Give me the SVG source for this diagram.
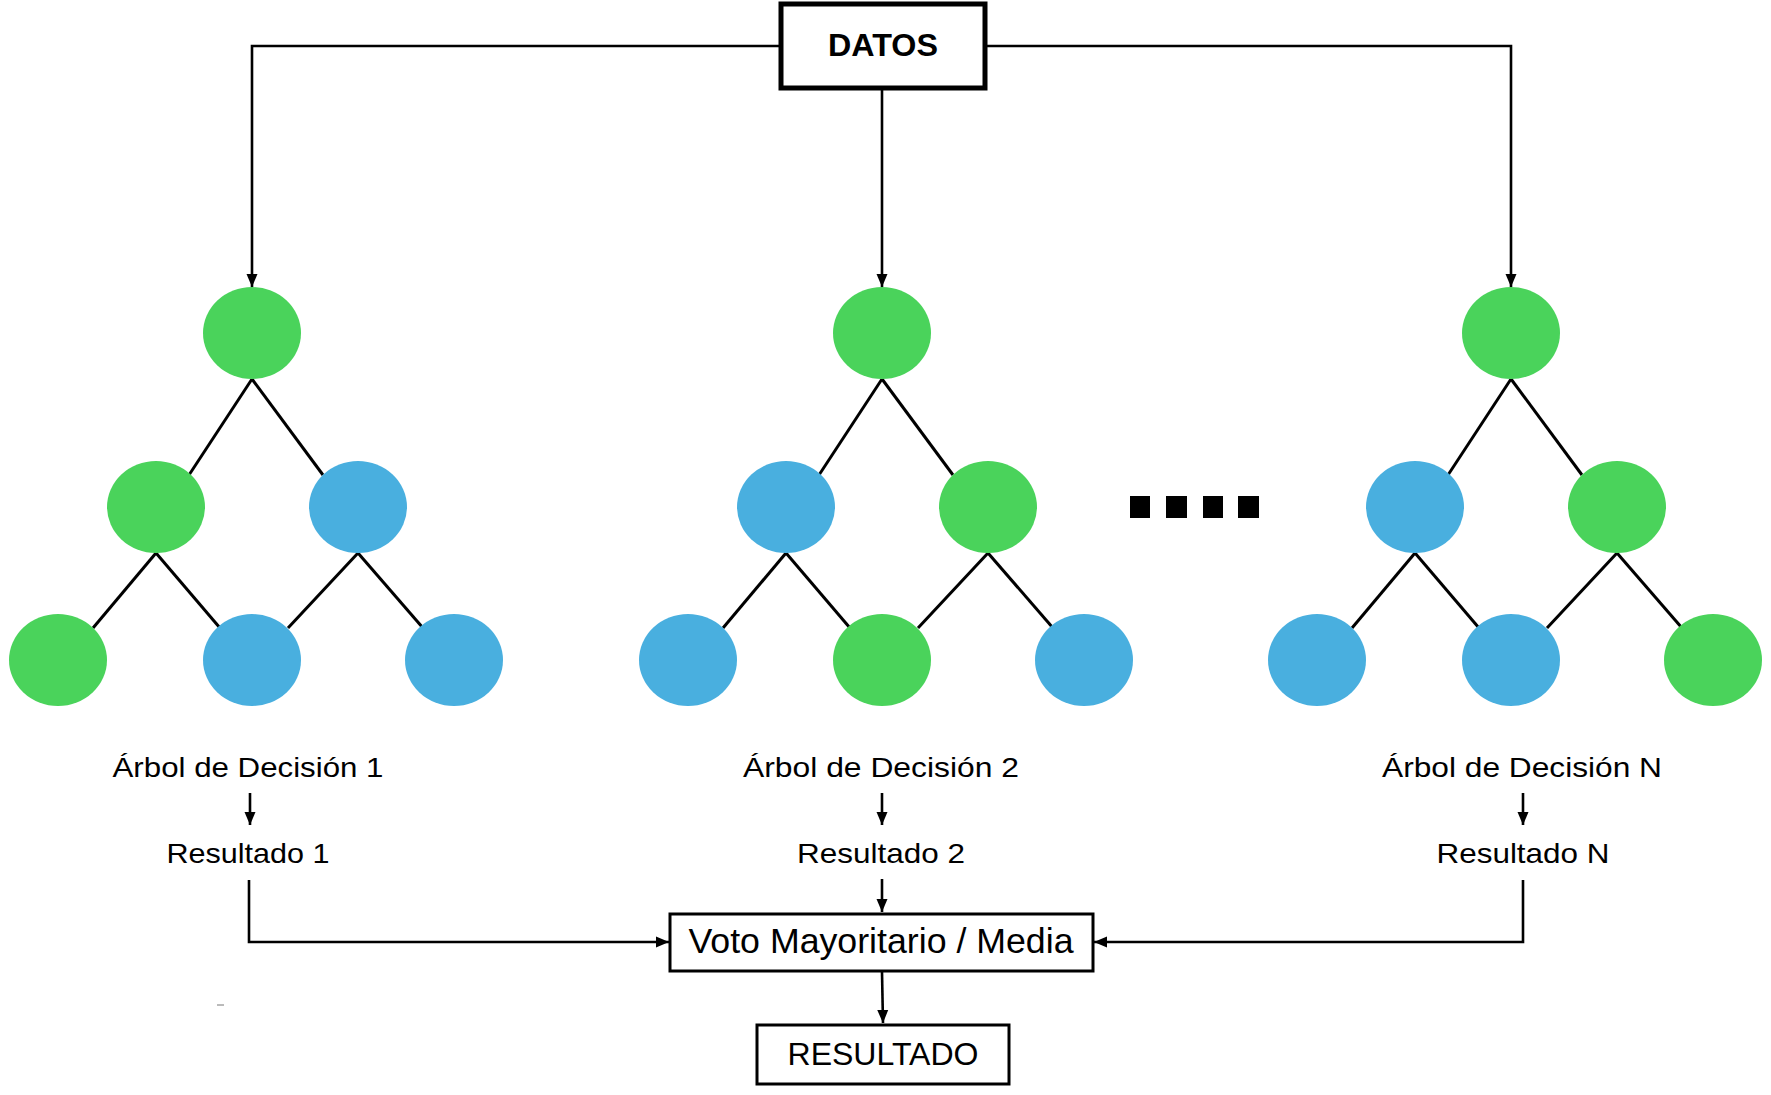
<svg xmlns="http://www.w3.org/2000/svg" width="1771" height="1095" viewBox="0 0 1771 1095">
<style>
.g{fill:#4AD35B}
.b{fill:#49AFDF}
.edge{stroke:#000;stroke-width:3;fill:none}
.conn{stroke:#000;stroke-width:2.6;fill:none;marker-end:url(#arr)}
.lbl{font-family:"Liberation Sans",Arial,sans-serif;font-size:28px;fill:#000;text-anchor:middle}
.box{fill:#fff;stroke:#000;stroke-width:3}
</style>
<defs>
<marker id="arr" markerUnits="userSpaceOnUse" markerWidth="14" markerHeight="14" viewBox="0 0 14 14" refX="13" refY="7" orient="auto">
<path d="M0,1.5 L13,7 L0,12.5 Z" fill="#000"/>
</marker>
</defs>
<rect width="1771" height="1095" fill="#fff"/>

<g id="connectors">
<path class="conn" d="M779 46 H252 V287"/>
<path class="conn" d="M882 90 V287"/>
<path class="conn" d="M987 46 H1511 V287"/>
<path class="conn" d="M250 793 V825"/>
<path class="conn" d="M882 793 V825"/>
<path class="conn" d="M1523 793 V825"/>
<path class="conn" d="M249 880 V942 H669"/>
<path class="conn" d="M882 879 V912"/>
<path class="conn" d="M1523 880 V942 H1094"/>
<path class="conn" d="M882 972 L883 1023"/>
</g>

<g id="datos">
<rect x="781" y="4" width="204" height="84" fill="#fff" stroke="#000" stroke-width="5"/>
<text x="883" y="56" font-family="Liberation Sans,Arial,sans-serif" font-weight="bold" font-size="31" text-anchor="middle" textLength="110" lengthAdjust="spacingAndGlyphs">DATOS</text>
</g>

<g id="tree1">
<g class="edge">
<line x1="252" y1="379" x2="189" y2="475"/>
<line x1="252" y1="379" x2="323" y2="475"/>
<line x1="156" y1="553" x2="93" y2="628"/>
<line x1="156" y1="553" x2="220" y2="628"/>
<line x1="358" y1="553" x2="288" y2="628"/>
<line x1="358" y1="553" x2="423" y2="628"/>
</g>
<ellipse class="g" cx="252" cy="333" rx="49" ry="46"/>
<ellipse class="g" cx="156" cy="507" rx="49" ry="46"/>
<ellipse class="b" cx="358" cy="507" rx="49" ry="46"/>
<ellipse class="g" cx="58" cy="660" rx="49" ry="46"/>
<ellipse class="b" cx="252" cy="660" rx="49" ry="46"/>
<ellipse class="b" cx="454" cy="660" rx="49" ry="46"/>
</g>

<g id="tree2">
<g class="edge">
<line x1="882" y1="379" x2="819" y2="475"/>
<line x1="882" y1="379" x2="953" y2="475"/>
<line x1="786" y1="553" x2="723" y2="628"/>
<line x1="786" y1="553" x2="850" y2="628"/>
<line x1="988" y1="553" x2="918" y2="628"/>
<line x1="988" y1="553" x2="1053" y2="628"/>
</g>
<ellipse class="g" cx="882" cy="333" rx="49" ry="46"/>
<ellipse class="b" cx="786" cy="507" rx="49" ry="46"/>
<ellipse class="g" cx="988" cy="507" rx="49" ry="46"/>
<ellipse class="b" cx="688" cy="660" rx="49" ry="46"/>
<ellipse class="g" cx="882" cy="660" rx="49" ry="46"/>
<ellipse class="b" cx="1084" cy="660" rx="49" ry="46"/>
</g>

<g id="tree3">
<g class="edge">
<line x1="1511" y1="379" x2="1448" y2="475"/>
<line x1="1511" y1="379" x2="1582" y2="475"/>
<line x1="1415" y1="553" x2="1352" y2="628"/>
<line x1="1415" y1="553" x2="1479" y2="628"/>
<line x1="1617" y1="553" x2="1547" y2="628"/>
<line x1="1617" y1="553" x2="1682" y2="628"/>
</g>
<ellipse class="g" cx="1511" cy="333" rx="49" ry="46"/>
<ellipse class="b" cx="1415" cy="507" rx="49" ry="46"/>
<ellipse class="g" cx="1617" cy="507" rx="49" ry="46"/>
<ellipse class="b" cx="1317" cy="660" rx="49" ry="46"/>
<ellipse class="b" cx="1511" cy="660" rx="49" ry="46"/>
<ellipse class="g" cx="1713" cy="660" rx="49" ry="46"/>
</g>

<g id="ellipsis">
<rect x="1130" y="496" width="20" height="22" fill="#000"/>
<rect x="1166" y="496" width="21" height="22" fill="#000"/>
<rect x="1203" y="496" width="20" height="22" fill="#000"/>
<rect x="1238" y="496" width="21" height="22" fill="#000"/>
</g>

<g id="label-tree1">
<text class="lbl" x="248" y="777" textLength="271" lengthAdjust="spacingAndGlyphs">Árbol de Decisión 1</text>
</g>
<g id="label-tree2">
<text class="lbl" x="881" y="777" textLength="276" lengthAdjust="spacingAndGlyphs">Árbol de Decisión 2</text>
</g>
<g id="label-tree3">
<text class="lbl" x="1522" y="777" textLength="280" lengthAdjust="spacingAndGlyphs">Árbol de Decisión N</text>
</g>
<g id="result1">
<text class="lbl" x="248" y="863" textLength="163" lengthAdjust="spacingAndGlyphs">Resultado 1</text>
</g>
<g id="result2">
<text class="lbl" x="881" y="863" textLength="168" lengthAdjust="spacingAndGlyphs">Resultado 2</text>
</g>
<g id="resultN">
<text class="lbl" x="1523" y="863" textLength="173" lengthAdjust="spacingAndGlyphs">Resultado N</text>
</g>

<g id="voto">
<rect class="box" x="670" y="914" width="423" height="57"/>
<text class="lbl" x="881" y="953" style="font-size:35px" textLength="385" lengthAdjust="spacingAndGlyphs">Voto Mayoritario / Media</text>
</g>

<g id="resultado">
<rect class="box" x="757" y="1025" width="252" height="59"/>
<text class="lbl" x="883" y="1065" style="font-size:32px" textLength="191" lengthAdjust="spacingAndGlyphs">RESULTADO</text>
</g>

<line x1="217" y1="1005" x2="224" y2="1005" stroke="#777" stroke-width="1"/>
</svg>
